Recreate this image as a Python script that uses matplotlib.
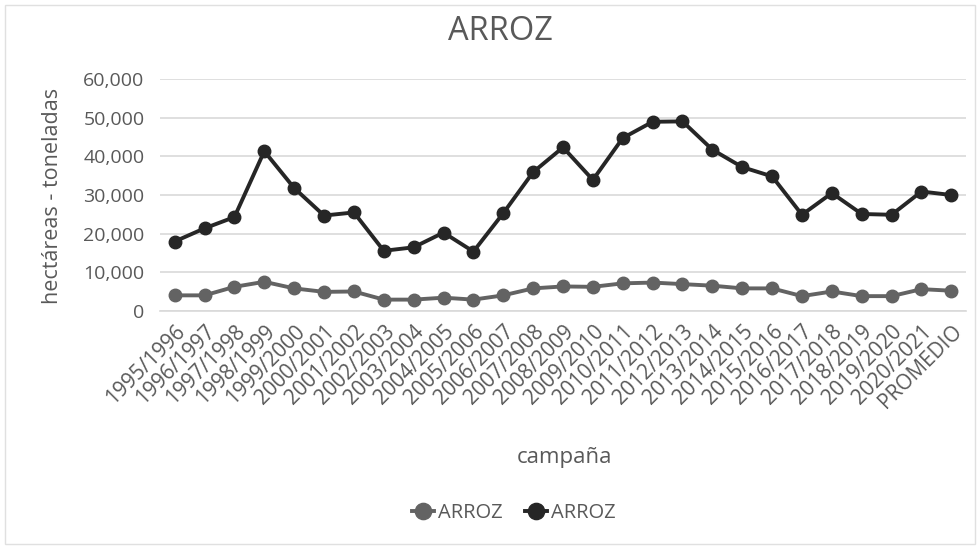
import matplotlib.pyplot as plt
from matplotlib.ticker import FuncFormatter

plt.rcParams['font.family'] = ['Open Sans', 'DejaVu Sans']

campanas = ['1995/1996', '1996/1997', '1997/1998', '1998/1999', '1999/2000', '2000/2001',
            '2001/2002', '2002/2003', '2003/2004', '2004/2005', '2005/2006', '2006/2007',
            '2007/2008', '2008/2009', '2009/2010', '2010/2011', '2011/2012', '2012/2013',
            '2013/2014', '2014/2015', '2015/2016', '2016/2017', '2017/2018', '2018/2019',
            '2019/2020', '2020/2021', 'PROMEDIO']

# hectáreas (serie gris)
hectareas = [4100, 4100, 6300, 7600, 5900, 5000, 5100, 3000, 3000, 3500, 3000, 4100,
             5900, 6400, 6300, 7200, 7400, 7000, 6600, 5900, 5900, 3900, 5100, 3900,
             3900, 5700, 5300]

# toneladas (serie negra)
toneladas = [18000, 21400, 24300, 41300, 31800, 24700, 25500, 15600, 16500, 20300, 15400,
             25300, 35900, 42300, 33900, 44700, 48900, 49000, 41700, 37200, 34800, 24900,
             30500, 25100, 24900, 30900, 30000]

text_color = '#595959'
fig = plt.figure(figsize=(9.8, 5.47), dpi=100)
ax = fig.add_axes([0.163, 0.431, 0.823, 0.425])

x = range(len(campanas))
ax.plot(x, hectareas, color='#636363', linewidth=2.8, marker='o', markersize=9, label='ARROZ')
ax.plot(x, toneladas, color='#262626', linewidth=2.8, marker='o', markersize=9, label='ARROZ')

ax.set_ylim(0, 60000)
ax.set_xlim(-0.5, len(campanas) - 0.5)
ax.set_yticks(range(0, 60001, 10000))
ax.yaxis.set_major_formatter(FuncFormatter(lambda v, p: f'{int(v):,}'))
ax.set_xticks(list(x))
ax.set_xticklabels(campanas, rotation=45, ha='right', rotation_mode='anchor')
ax.tick_params(axis='both', length=0, labelsize=14, labelcolor=text_color)
ax.tick_params(axis='x', labelsize=15, pad=7)
ax.tick_params(axis='y', pad=11)
ax.grid(axis='y', color='#d9d9d9', linewidth=1.2)
ax.set_axisbelow(True)
for s in ['top', 'right', 'left']:
    ax.spines[s].set_visible(False)
ax.spines['bottom'].set_color('#d9d9d9')
ax.spines['bottom'].set_linewidth(1.2)

fig.text(0.511, 1 - 32 / 547, 'ARROZ', fontsize=23.5, color=text_color, ha='center', va='center')
fig.text(52 / 980, 1 - 196 / 547, 'hectáreas - toneladas', fontsize=15.5, color=text_color,
         ha='center', va='center', rotation=90)
fig.text(564 / 980, 1 - 458 / 547, 'campaña', fontsize=16, color=text_color,
         ha='center', va='center')

ax.legend(loc='center', bbox_to_anchor=(514 / 980, 1 - 513 / 547), bbox_transform=fig.transFigure,
          ncol=2, frameon=False, fontsize=14.5, labelcolor=text_color, handlelength=1.1,
          handletextpad=0.2, columnspacing=1.1, markerscale=1.3)

fig.patches.append(plt.Rectangle((0.005, 0.005), 0.99, 0.985, transform=fig.transFigure,
                                 fill=False, edgecolor='#e0e0e0', linewidth=1))

fig.savefig('out.png', dpi=100)
